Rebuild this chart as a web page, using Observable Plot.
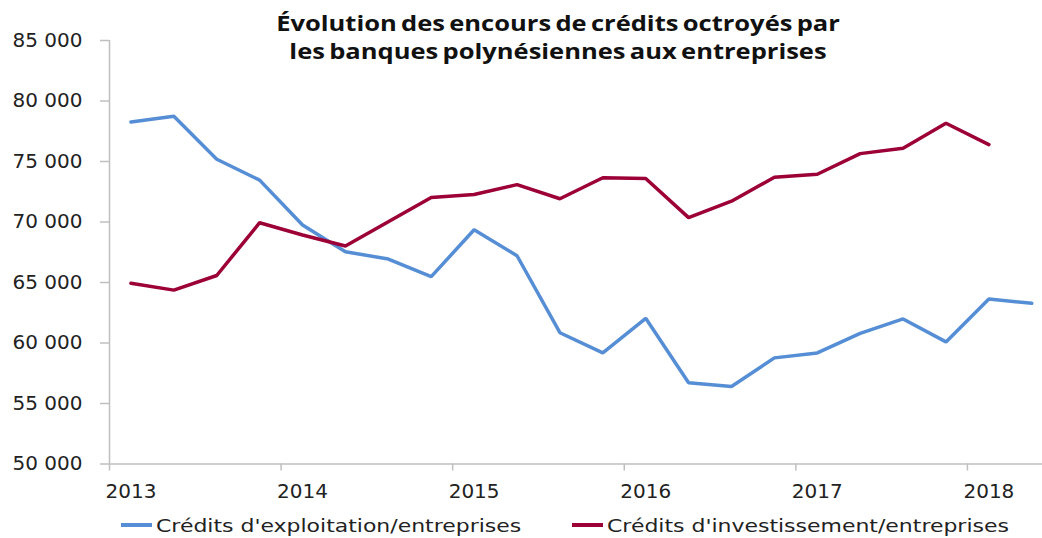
<!DOCTYPE html>
<html>
<head>
<meta charset="utf-8">
<script src="https://cdn.jsdelivr.net/npm/d3@7"></script>
<script src="https://cdn.jsdelivr.net/npm/@observablehq/plot@0.6"></script>
<style>
  html, body { margin: 0; padding: 0; background: #fff; }
  #wrap { position: relative; width: 1042px; height: 538px; overflow: hidden; }
  #title { position: absolute; top: 9px; left: 558px; transform: translateX(-50%) scaleX(1.16);
    font-family: "Open Sans", sans-serif; font-weight: 700; font-size: 22px; line-height: 27.5px;
    text-align: center; white-space: nowrap; color: #111; word-spacing: -2px; }
  #legend { position: absolute; top: 512px; left: 0; width: 1042px; height: 26px;
    font-family: "DejaVu Sans", sans-serif; font-size: 18px; color: #222; white-space: nowrap; }
  .item { position: absolute; top: 0; display: flex; align-items: center; height: 26px; }
  .swatch { display: inline-block; width: 31px; height: 3.5px; margin-right: 4px; }
  .lab { display: inline-block; transform: scaleX(1.22); transform-origin: left center; }
  svg { display: block; }
</style>
</head>
<body>
<div id="wrap">
  <div id="chart"></div>
  <div id="title"></div>
  <div id="legend"></div>
</div>
<script>
// ---- Data ----
const titleLines = ["Évolution des encours de crédits octroyés par", "les banques polynésiennes aux entreprises"];
const quarters = [
  "2013 T1","2013 T2","2013 T3","2013 T4",
  "2014 T1","2014 T2","2014 T3","2014 T4",
  "2015 T1","2015 T2","2015 T3","2015 T4",
  "2016 T1","2016 T2","2016 T3","2016 T4",
  "2017 T1","2017 T2","2017 T3","2017 T4",
  "2018 T1","2018 T2"
];
const years = ["2013","2014","2015","2016","2017","2018"];
const seriesNames = ["Crédits d'exploitation/entreprises", "Crédits d'investissement/entreprises"];
const seriesColors = ["#558ED5", "#9C0036"];
const exploitation = [78270, 78740, 75190, 73460, 69750, 67540, 66940, 65480, 69360, 67210, 60850,
                      59180, 62040, 56710, 56400, 58770, 59180, 60800, 61990, 60090, 63640, 63280];
const investissement = [64940, 64370, 65580, 69940, 68930, 68020, 70020, 72020, 72270, 73090, 71920,
                        73660, 73600, 70360, 71720, 73700, 73950, 75650, 76100, 78160, 76400];
const yTicks = [50000, 55000, 60000, 65000, 70000, 75000, 80000, 85000];

// ---- Build ----
const toRows = (vals, name) => vals.map((v, i) => ({i, q: quarters[i], v, name}));
const rows = [...toRows(exploitation, seriesNames[0]), ...toRows(investissement, seriesNames[1])];
const yearIdx = years.map(y => quarters.indexOf(y + " T1"));
const boundaries = yearIdx.map(i => i - 0.5);
const fmt = d => d3.format(",")(d).replace(/,/g, "\u00a0");
const axisGray = "#BFBFBF";

const chart = Plot.plot({
  width: 1042,
  height: 538,
  marginTop: 40,
  marginBottom: 74.5,
  marginLeft: 109,
  marginRight: 0,
  style: {fontFamily: "DejaVu Sans, sans-serif", fontSize: "20px", color: "#222", background: "#fff"},
  x: {type: "linear", domain: [-0.5, quarters.length - 0.75], axis: null},
  y: {domain: [50000, 85000], axis: null},
  color: {domain: seriesNames, range: seriesColors},
  marks: [
    Plot.axisY({ticks: yTicks, tickSize: 9, tickPadding: 18, stroke: axisGray, strokeWidth: 1.5,
                fill: "#222", fontSize: 20, tickFormat: fmt, label: null}),
    Plot.axisX({ticks: boundaries, tickSize: 7, stroke: axisGray, strokeWidth: 1.5, fill: "none", label: null}),
    Plot.axisX({ticks: yearIdx, tickSize: 0, tickPadding: 20, fill: "#222", fontSize: 20,
                tickFormat: i => quarters[i].slice(0, 4), label: null}),
    Plot.ruleX([-0.5], {stroke: axisGray, strokeWidth: 1.5}),
    Plot.ruleY([50000], {stroke: axisGray, strokeWidth: 1.5}),
    Plot.line(rows, {x: "i", y: "v", z: "name", stroke: "name", strokeWidth: 3.5,
                     strokeLinejoin: "miter", strokeLinecap: "round"})
  ]
});
document.getElementById("chart").appendChild(chart);

document.getElementById("title").innerHTML = titleLines.join("<br>");
const legendX = [121, 572];
const legend = document.getElementById("legend");
seriesNames.forEach((n, k) => {
  const it = document.createElement("div");
  it.className = "item";
  it.style.left = legendX[k] + "px";
  it.innerHTML = `<span class="swatch" style="background:${seriesColors[k]}"></span><span class="lab">${n}</span>`;
  legend.appendChild(it);
});
</script>
</body>
</html>
